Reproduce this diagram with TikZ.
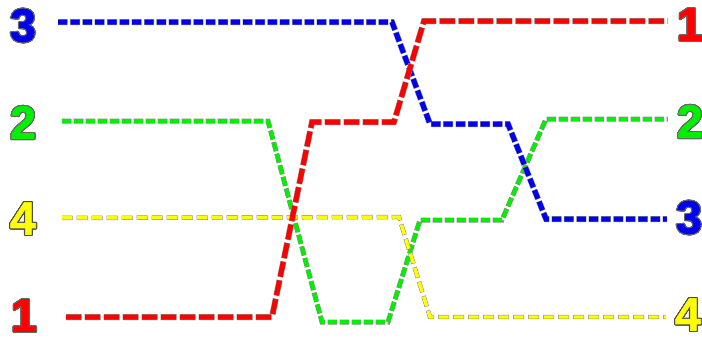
\documentclass[tikz,border=0pt]{standalone}
\usepackage{fontspec}
\setmainfont[BoldFeatures={FakeBold=1.2}]{Liberation Sans}
\usepackage{contour}
\usetikzlibrary{calc}
\definecolor{wireR}{HTML}{FF0000}
\definecolor{wireB}{HTML}{0000F0}
\definecolor{wireG}{HTML}{00F000}
\definecolor{wireY}{HTML}{FFFF00}
\contourlength{0.8pt}
\contournumber{24}

\begin{document}
\begin{tikzpicture}[x=0.75pt,y=-0.75pt,
  lab/.style={inner sep=0pt,font=\fontsize{35}{35}\selectfont\bfseries},
  redwire/.style={draw=wireR,line width=3.75pt,dash pattern=on 11.25pt off 3pt,
    preaction={draw=black!45,line width=4.5pt,dash pattern=on 12pt off 2.25pt,dash phase=0.375pt}},
  bluewire/.style={draw=wireB,line width=3.75pt,dash pattern=on 6.75pt off 2.5pt,
    preaction={draw=black!45,line width=4.5pt,dash pattern=on 7.5pt off 1.75pt,dash phase=0.375pt}},
  greenwire/.style={draw=wireG,line width=3pt,dash pattern=on 6.4pt off 2.6pt,
    preaction={draw=black!45,line width=3.75pt,dash pattern=on 7.15pt off 1.85pt,dash phase=0.375pt}},
  yellowwire/.style={draw=wireY,line width=2.6pt,dash pattern=on 7.5pt off 3.75pt,
    preaction={draw=black!45,line width=3.35pt,dash pattern=on 8.25pt off 3pt,dash phase=0.375pt}}]
\useasboundingbox (0,0) rectangle (702,339);
% labels, left column
\node[lab,text=wireB] (L3) at (23,26)  {\contour{black!60}{3}};
\node[lab,text=wireG] (L2) at (23,123) {\contour{black!60}{2}};
\node[lab,text=wireY] (L4) at (23,219) {\contour{black!70}{4}};
\node[lab,text=wireR] (L1) at (24,316) {\contour{black!60}{1}};
% labels, right column
\node[lab,text=wireR] (R1) at (690,25)  {\contour{black!60}{1}};
\node[lab,text=wireG] (R2) at (690,122) {\contour{black!60}{2}};
\node[lab,text=wireB] (R3) at (689,218) {\contour{black!60}{3}};
\node[lab,text=wireY] (R4) at (688,315) {\contour{black!70}{4}};
% wires
\draw[greenwire,shorten <=19.5pt,shorten >=6.75pt] (L2.east |- 0,121) -- (268,121) -- (322,322) -- (388,322)
  -- (420,220) -- (502,220) -- (546,119) -- (R2.west |- 0,119);
\draw[bluewire,shorten <=16.5pt,shorten >=6.75pt] (L3.east |- 0,22) -- (392,22) -- (430,124) -- (508,124)
  -- (546,219) -- (R3.west |- 0,219);
\draw[yellowwire,shorten <=19.5pt,shorten >=6.75pt] (L4.east |- 0,218) -- (399,217) -- (430,317) -- (R4.west |- 0,317);
\draw[redwire,shorten <=21.75pt,shorten >=6.75pt] (L1.east |- 0,317) -- (272,317) -- (312,122) -- (394,122)
  -- (424,21) -- (R1.west |- 0,21);
\end{tikzpicture}
\end{document}
